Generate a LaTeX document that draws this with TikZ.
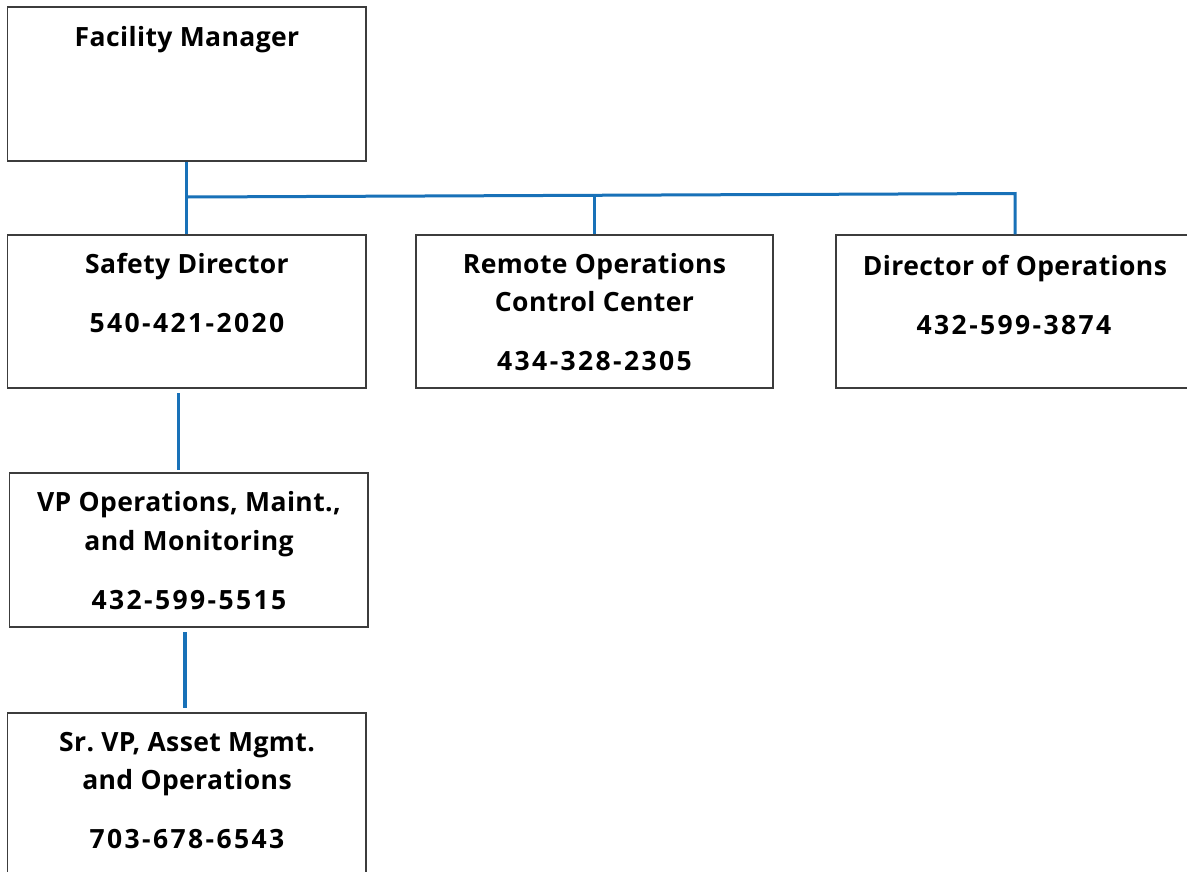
\documentclass[tikz,border=0pt]{standalone}
\usepackage{fontspec}
\setmainfont{Open Sans}
\definecolor{conn}{RGB}{24,113,184}
\definecolor{edge}{RGB}{60,60,60}
\begin{document}
\begin{tikzpicture}[x=1pt,y=-1pt,
  box/.style={draw=edge,line width=1.3pt,inner sep=0pt},
  lbl/.style={anchor=base,font=\fontsize{26.5}{30}\selectfont\bfseries\addfontfeature{LetterSpace=1.5},inner sep=0pt},
  num/.style={lbl,font=\fontsize{26.5}{30}\selectfont\bfseries\addfontfeature{LetterSpace=9}},
  link/.style={draw=conn,line width=3pt},
  thicklink/.style={draw=conn,line width=4pt}]
\clip (0,0) rectangle (1187,871);
\fill[white] (0,0) rectangle (1187,871);
% boxes
\node[box,minimum width=358.5pt,minimum height=154pt] (fm) at (186.75,84) {};
\node[box,minimum width=358.5pt,minimum height=153pt] (sd) at (186.75,311.5) {};
\node[box,minimum width=357pt,minimum height=153pt] (roc) at (594.5,311.5) {};
\node[box,minimum width=358pt,minimum height=153pt] (dop) at (1015,311.5) {};
\node[box,minimum width=358.5pt,minimum height=154pt] (vp) at (188.75,550) {};
\node[box,minimum width=358.5pt,minimum height=167pt] (sr) at (186.75,796.5) {};
% labels
\node[lbl] (fmt) at (187,46) {Facility Manager};
\node[lbl] (sdt) at (187,273.5) {Safety Director};
\node[num] (sdp) at (187,332.5) {540-421-2020};
\node[lbl] (roct1) at (594.5,273.5) {Remote Operations};
\node[lbl] (roct2) at (594.5,311.5) {Control Center};
\node[num] (rocp) at (594.5,370.5) {434-328-2305};
\node[lbl] (dopt) at (1015,275) {Director of Operations};
\node[num] (dopp) at (1014,334.5) {432-599-3874};
\node[lbl] (vpt1) at (189,511.5) {VP Operations, Maint.,};
\node[lbl] (vpt2) at (189,550) {and Monitoring};
\node[num] (vpp) at (189,609.5) {432-599-5515};
\node[lbl] (srt1) at (187,751.5) {Sr.\ VP, Asset Mgmt.};
\node[lbl] (srt2) at (187,789.5) {and Operations};
\node[num] (srp) at (187,848.5) {703-678-6543};
% connectors
\coordinate (j) at (186.75,197);
\coordinate (jm) at (594.5,195.5);
\coordinate (jr) at (1015,193.5);
\draw[link] (fm.south) -- (sd.north);
\draw[link] (j) -- (jr) -- (dop.north);
\draw[link] (jm) -- (roc.north);
\coordinate (a1) at (178,393);
\coordinate (a2) at (178,470);
\draw[link] (a1) -- (a2);
\coordinate (b1) at (185,632);
\coordinate (b2) at (185,708);
\draw[thicklink] (b1) -- (b2);
\end{tikzpicture}
\end{document}
